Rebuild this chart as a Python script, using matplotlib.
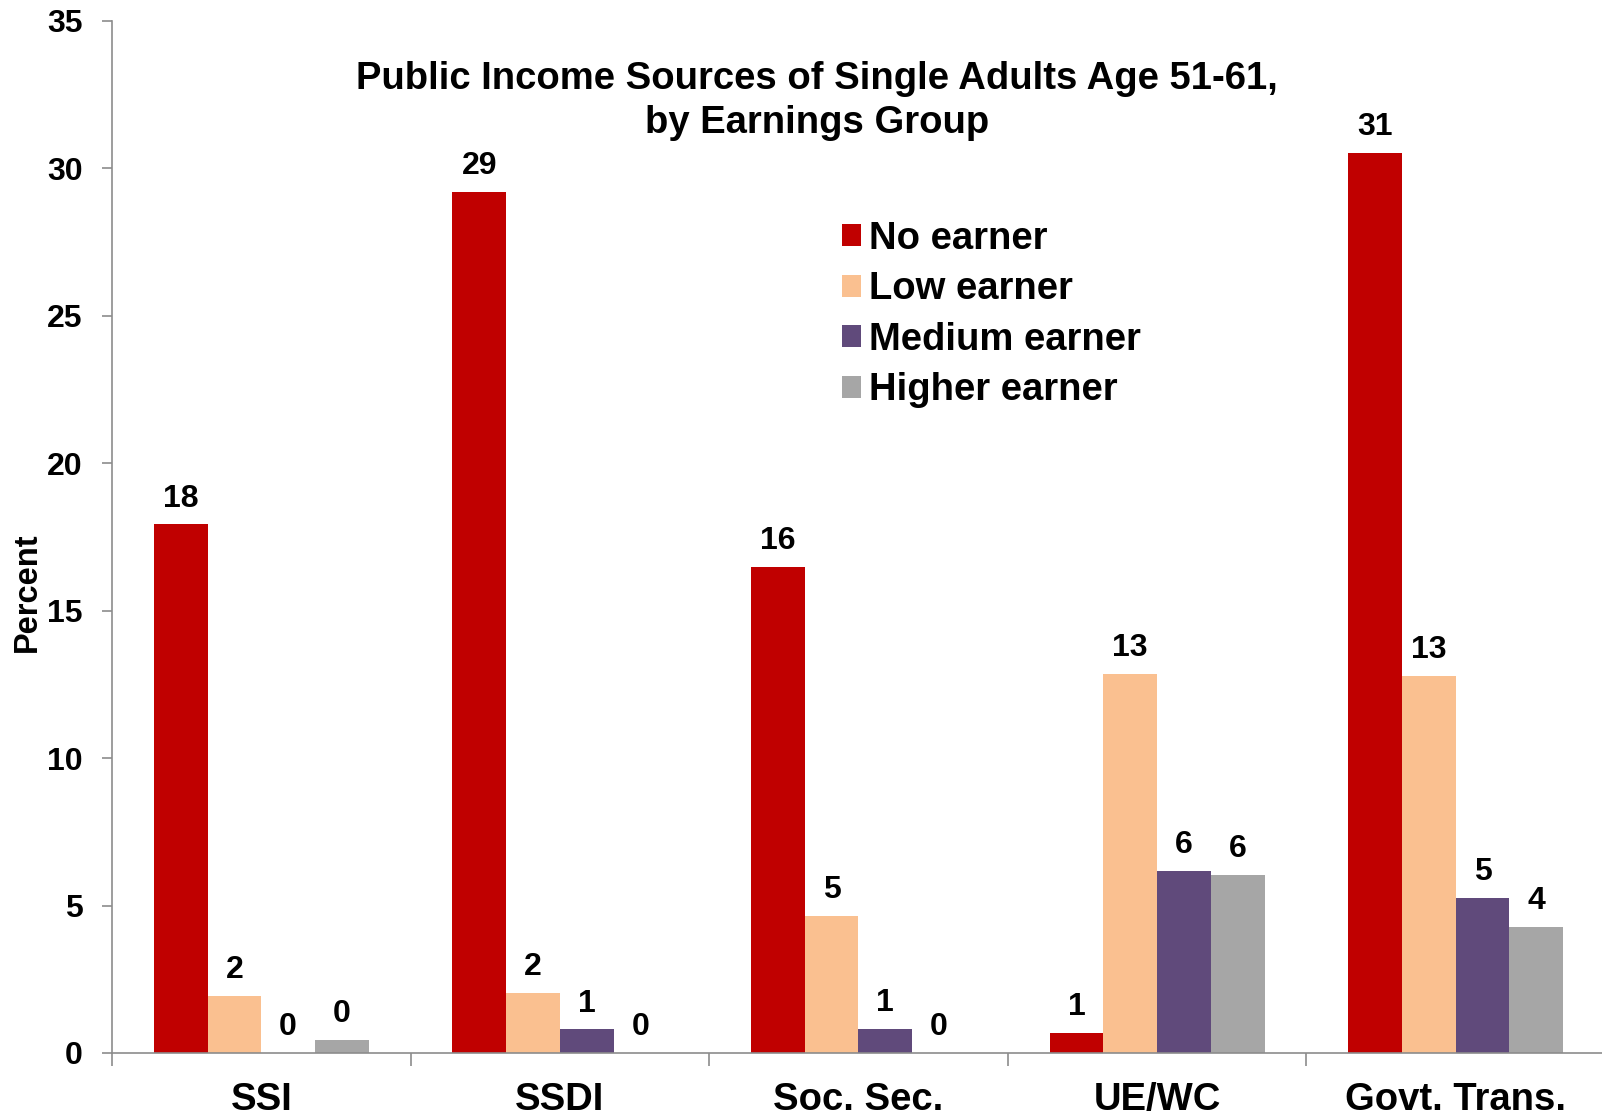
import matplotlib
matplotlib.use("Agg")
import matplotlib.pyplot as plt
from matplotlib.patches import Patch
from matplotlib.ticker import FixedLocator
import numpy as np

plt.rcParams['font.family'] = ['Liberation Sans', 'DejaVu Sans']
plt.rcParams['font.weight'] = 'bold'

categories = ["SSI", "SSDI", "Soc. Sec.", "UE/WC", "Govt. Trans."]
series_names = ["No earner", "Low earner", "Medium earner", "Higher earner"]
no_earner = [17.93, 29.2, 16.48, 0.69, 30.52]
low_earner = [1.94, 2.05, 4.65, 12.87, 12.80]
medium_earner = [0.0, 0.80, 0.83, 6.17, 5.27]
higher_earner = [0.45, 0.0, 0.0, 6.04, 4.27]
colors = ["#C00000", "#FAC090", "#604A7B", "#A6A6A6"]

title_lines = ["Public Income Sources of Single Adults Age 51-61,", "by Earnings Group"]
y_label = "Percent"
y_ticks = [0, 5, 10, 15, 20, 25, 30, 35]

fig = plt.figure(figsize=(16.02, 11.15), dpi=100)
ax = fig.add_axes([112 / 1602, 1 - 1053 / 1115, 1493 / 1602, (1053 - 21) / 1115])

x = np.arange(len(categories))
width = 0.18
all_series = [no_earner, low_earner, medium_earner, higher_earner]
offsets = [-1.5, -0.5, 0.5, 1.5]

for vals, off, col in zip(all_series, offsets, colors):
    bars = ax.bar(x + off * width, vals, width, color=col, edgecolor='none')
    for b, v in zip(bars, vals):
        ax.annotate(f"{round(v)}", (b.get_x() + b.get_width() / 2, v),
                    xytext=(0, 18.5), textcoords='offset points',
                    ha='center', va='center', fontsize=23, fontweight='bold')

ax.set_xlim(-0.5, len(categories) - 0.5)
ax.set_ylim(0, 35)
ax.set_yticks(y_ticks)
ax.set_yticklabels([str(t) for t in y_ticks], fontsize=23, fontweight='bold')
ax.set_xticks(x)
ax.set_xticklabels(categories, fontsize=27.5, fontweight='bold')
ax.xaxis.set_minor_locator(FixedLocator(np.arange(-0.5, len(categories), 1.0)))
ax.tick_params(axis='x', which='major', length=0, pad=21)
ax.tick_params(axis='x', which='minor', length=9, width=1.2, color='#8C8C8C', direction='out')
ax.tick_params(axis='y', which='major', length=7, width=1.2, color='#8C8C8C', direction='out', pad=14)

for s in ['top', 'right']:
    ax.spines[s].set_visible(False)
for s in ['left', 'bottom']:
    ax.spines[s].set_color('#8C8C8C')
    ax.spines[s].set_linewidth(1.2)

fig.text(27 / 1602, 1 - 592 / 1115, y_label, rotation=90, ha='center', va='center',
         fontsize=23.5, fontweight='bold')

fig.text(817 / 1602, 1 - 79 / 1115, title_lines[0], ha='center', va='center',
         fontsize=27.5, fontweight='bold')
fig.text(817 / 1602, 1 - 123 / 1115, title_lines[1], ha='center', va='center',
         fontsize=27.5, fontweight='bold')

handles = [Patch(facecolor=c, edgecolor='none') for c in colors]
fig.legend(handles, series_names, loc='center left',
           bbox_to_anchor=(842 / 1602, 1 - 314.5 / 1115), bbox_transform=fig.transFigure,
           frameon=False, handlelength=0.5, handleheight=0.5,
           handletextpad=0.2, labelspacing=0.38, borderpad=0, borderaxespad=0,
           prop={'weight': 'bold', 'size': 27.5})

fig.savefig("out.png", dpi=100)
